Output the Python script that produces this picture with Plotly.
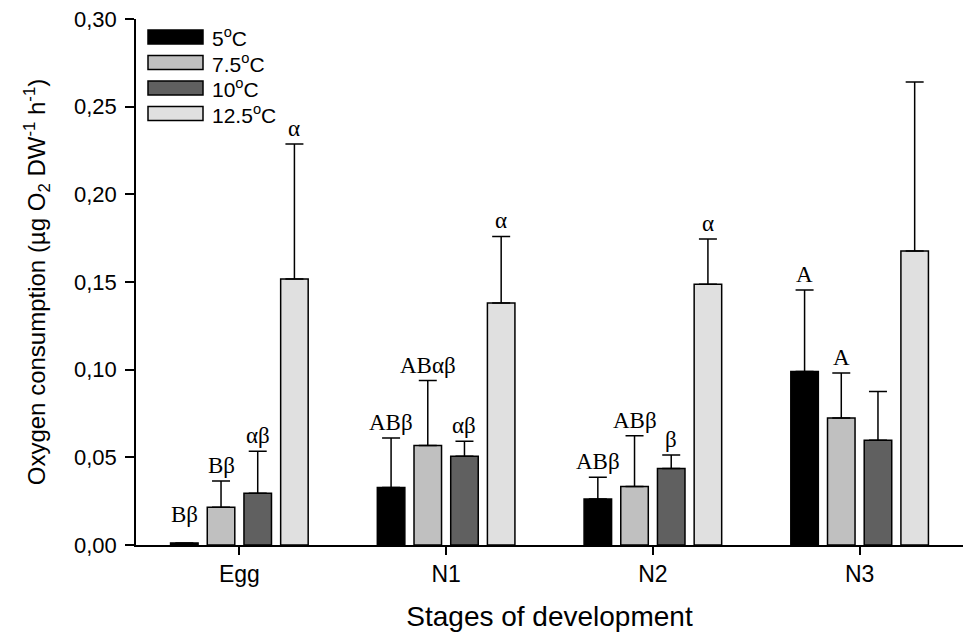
import plotly.graph_objects as go

stages = ["Egg", "N1", "N2", "N3"]
temps = ["5<sup>o</sup>C", "7.5<sup>o</sup>C", "10<sup>o</sup>C", "12.5<sup>o</sup>C"]
colors = ["#000000", "#c0c0c0", "#606060", "#e0e0e0"]

val_5 = [0.0012, 0.0328, 0.0262, 0.0990]
val_75 = [0.0215, 0.0568, 0.0333, 0.0725]
val_10 = [0.0295, 0.0506, 0.0436, 0.0598]
val_125 = [0.1517, 0.1380, 0.1487, 0.1677]

err_5 = [0.0, 0.0282, 0.0125, 0.0465]
err_75 = [0.0150, 0.0370, 0.0290, 0.0256]
err_10 = [0.0240, 0.0086, 0.0078, 0.0278]
err_125 = [0.0770, 0.0380, 0.0258, 0.0964]

lab_5 = ["B\u03b2", "AB\u03b2", "AB\u03b2", "A"]
lab_75 = ["B\u03b2", "AB\u03b1\u03b2", "AB\u03b2", "A"]
lab_10 = ["\u03b1\u03b2", "\u03b1\u03b2", "\u03b2", ""]
lab_125 = ["\u03b1", "\u03b1", "\u03b1", ""]

values = [val_5, val_75, val_10, val_125]
errors = [err_5, err_75, err_10, err_125]
labels = [lab_5, lab_75, lab_10, lab_125]

W, H = 963, 637
L, R, T, B = 136, 0, 19, 92  # plot area: x 136..963, y 19..545

SANS = "Liberation Sans, Arial, sans-serif"
SERIF = "Liberation Serif, Times New Roman, serif"

fig = go.Figure()
for i in range(4):
    fig.add_trace(go.Bar(
        x=stages, y=values[i], name=temps[i],
        marker=dict(color=colors[i], line=dict(color="black", width=1.5)),
        error_y=dict(type="data", array=errors[i], arrayminus=[0]*4, symmetric=False,
                     color="black", thickness=1.5, width=9),
        showlegend=False,
    ))

# significance letters, placed over each bar's slot
n = 4
bargap = 0.29
slot = (1 - bargap) / n
annotations = []
for i in range(4):
    for j in range(4):
        txt = labels[i][j]
        if not txt:
            continue
        xoff = -0.5 * (1 - bargap) + slot * (i + 0.5)
        top = values[i][j] + errors[i][j]
        annotations.append(dict(
            x=j + xoff, y=top, xref="x", yref="y", text=txt, showarrow=False,
            yanchor="bottom", yshift=(14 if errors[i][j] == 0 else 1),
            font=dict(family=SERIF, size=23, color="black"),
        ))

# custom legend
pw = W - L - R
ph = H - T - B
def px2paper(x, y):
    return (x - L) / pw, (H - B - y) / ph

shapes = []
for i in range(4):
    y0 = 30 + i * 25.5
    x0p, y0p = px2paper(148, y0)
    x1p, y1p = px2paper(203, y0 + 14)
    shapes.append(dict(type="rect", xref="paper", yref="paper", x0=x0p, x1=x1p,
                       y0=y1p, y1=y0p, fillcolor=colors[i],
                       line=dict(color="black", width=1.5)))
    tx, ty = px2paper(210, y0 + 7)
    annotations.append(dict(x=tx, y=ty, xref="paper", yref="paper", text=temps[i],
                            showarrow=False, xanchor="left", yanchor="middle",
                            font=dict(family=SANS, size=21, color="black")))

fig.update_layout(
    width=W, height=H,
    margin=dict(l=L, r=R, t=T, b=B),
    paper_bgcolor="white", plot_bgcolor="white",
    barmode="group", bargap=bargap, bargroupgap=0.25,
    separators=",.",
    font=dict(family=SANS, size=22, color="black"),
    shapes=shapes, annotations=annotations,
    xaxis=dict(range=[-0.5, 3.5], showline=True, linecolor="black", linewidth=1.5,
               ticks="outside", ticklen=8, tickwidth=1.5, tickcolor="black",
               showgrid=False, zeroline=False,
               tickfont=dict(size=23),
               title=dict(text="Stages of development", font=dict(size=28), standoff=20)),
    yaxis=dict(range=[0, 0.30], dtick=0.05, tickformat=".2f", showline=True,
               linecolor="black", linewidth=1.5, ticks="outside", ticklen=9,
               tickwidth=1.5, tickcolor="black", showgrid=False, zeroline=False,
               tickfont=dict(size=22), ticklabelstandoff=4,
               title=dict(text="Oxygen consumption (\u00b5g O<sub>2</sub> DW<sup>-1</sup> h<sup>-1</sup>)",
                          font=dict(size=24), standoff=22)),
)

fig.write_html("out.html")
